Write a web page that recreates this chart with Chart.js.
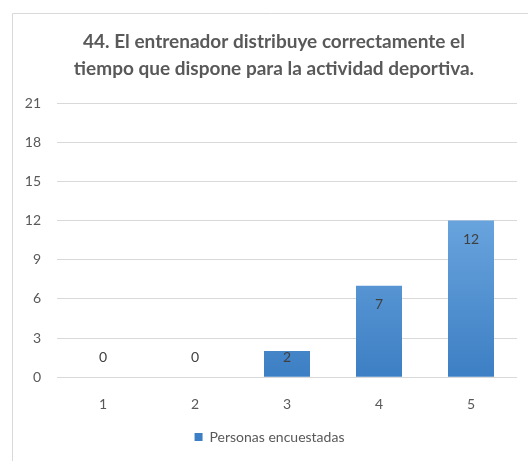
<!DOCTYPE html>
<html><head><meta charset="utf-8">
<script src="https://cdn.jsdelivr.net/npm/chart.js@4"></script>
<style>html,body{margin:0;padding:0;background:#fff;}#wrap{width:528px;height:461px;position:relative;}</style>
</head><body><div id="wrap"><canvas id="c" width="528" height="461"></canvas></div>
<script>
const categories = ['1','2','3','4','5'];
const values = [0,0,2,7,12];
const seriesName = 'Personas encuestadas';
const titleLines = ['44. El entrenador distribuye correctamente el','tiempo que dispone para la actividad deportiva.'];
const yTicks = [0,3,6,9,12,15,18,21];

const FONT='Lato, "Liberation Sans", sans-serif';
const frame = {
  id:'frame',
  afterLayout(chart){
    if(chart.titleBlock){ chart.titleBlock.left=31; chart.titleBlock.right=517; }
  },
  beforeDraw(chart){
    const ctx=chart.ctx;
    ctx.save();
    ctx.fillStyle='#fff';ctx.fillRect(0,0,chart.width,chart.height);
    ctx.strokeStyle='#d9d9d9';ctx.lineWidth=1;
    ctx.beginPath();
    ctx.moveTo(12.5,461);ctx.lineTo(12.5,13.5);ctx.lineTo(528,13.5);
    ctx.stroke();
    ctx.restore();
  }
};
const labelsPlugin = {
  id:'vlabels',
  afterDatasetsDraw(chart){
    const ctx=chart.ctx;
    const meta=chart.getDatasetMeta(0);
    const base=chart.scales.y.getPixelForValue(0);
    ctx.save();
    ctx.font='14px '+FONT;
    ctx.fillStyle='#404040';
    ctx.textAlign='center';ctx.textBaseline='middle';
    meta.data.forEach((bar,i)=>{
      const y=Math.min(bar.y+19, base-20);
      ctx.fillText(String(values[i]), bar.x, y);
    });
    ctx.restore();
  }
};
const ctx=document.getElementById('c').getContext('2d');
const grad=(c)=>{
  const {chart}=c; const a=chart.chartArea; if(!a) return '#5b9bd5';
  const g=chart.ctx.createLinearGradient(0,a.top+110,0,a.bottom);
  g.addColorStop(0,'#6aa5de');g.addColorStop(1,'#3d7fc4');return g;
};
new Chart(ctx,{
  type:'bar',
  data:{labels:categories,datasets:[{label:seriesName,data:values,backgroundColor:grad,borderWidth:0,categoryPercentage:0.5,barPercentage:1}]},
  options:{
    responsive:false,animation:false,
    layout:{padding:{left:22,right:11,top:20,bottom:7}},
    plugins:{
      title:{display:true,text:titleLines,color:'#595959',font:{family:FONT,size:19,weight:'bold',lineHeight:1.45},padding:{top:8,bottom:20}},
      legend:{position:'bottom',labels:{boxWidth:8,boxHeight:8,color:'#595959',font:{family:FONT,size:14},padding:6}},
      tooltip:{enabled:false}
    },
    scales:{
      x:{grid:{display:false},border:{display:false},ticks:{color:'#595959',font:{family:FONT,size:14},padding:11}},
      y:{min:0,max:21,afterBuildTicks(s){s.ticks=yTicks.map(v=>({value:v}));},
         grid:{color:'#d9d9d9',drawTicks:false},border:{display:false},
         ticks:{color:'#595959',font:{family:FONT,size:14},padding:16},
         afterFit(s){s.width=35;}}
    }
  },
  plugins:[frame,labelsPlugin]
});
</script></body></html>
